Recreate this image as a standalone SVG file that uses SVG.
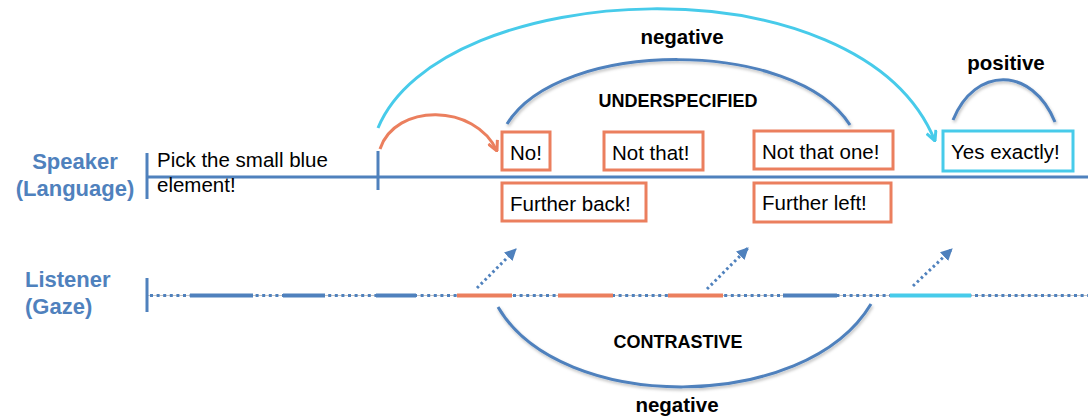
<svg xmlns="http://www.w3.org/2000/svg" width="1088" height="418" viewBox="0 0 1088 418">
  <style>
    .lbl { font-family: "Liberation Sans", Arial, sans-serif; font-weight: bold; fill: #4F81BD; font-size: 22px; }
    .txt { font-family: "Liberation Sans", Arial, sans-serif; fill: #000; font-size: 20.5px; }
    .bold { font-family: "Liberation Sans", Arial, sans-serif; font-weight: bold; fill: #000; }
    .axis { stroke: #4F81BD; stroke-width: 3; fill: none; }
    .box { fill: #fff; stroke: #EB7F5E; stroke-width: 3; }
    .box-pos { fill: #fff; stroke: #47CBEA; stroke-width: 3; }
    .arc-blue { stroke: #4F81BD; stroke-width: 3; fill: none; filter: url(#shadow); }
    .seg { stroke-width: 4; }
    .gaze-arrow { stroke: #4F81BD; stroke-width: 3; stroke-dasharray: 2.5 3; fill: none; marker-end: url(#headBlue); }
  </style>
  <defs>
    <filter id="shadow" x="-10%" y="-20%" width="120%" height="150%">
      <feDropShadow dx="1" dy="2" stdDeviation="1.5" flood-color="#000" flood-opacity="0.25"/>
    </filter>
    <marker id="headOrange" viewBox="0 0 12 12" refX="11" refY="6" markerWidth="12" markerHeight="12" markerUnits="userSpaceOnUse" orient="auto">
      <path d="M1,1 L11,6 L1,11" fill="none" stroke="#EB7F5E" stroke-width="3" stroke-linejoin="miter"/>
    </marker>
    <marker id="headCyan" viewBox="0 0 12 12" refX="11" refY="6" markerWidth="12" markerHeight="12" markerUnits="userSpaceOnUse" orient="auto">
      <path d="M1,1 L11,6 L1,11" fill="none" stroke="#47CBEA" stroke-width="3" stroke-linejoin="miter"/>
    </marker>
    <marker id="headBlue" viewBox="0 0 12 12" refX="11" refY="6" markerWidth="12" markerHeight="12" markerUnits="userSpaceOnUse" orient="auto">
      <path d="M0,0 L12,6 L0,12 Z" fill="#4F81BD"/>
    </marker>
  </defs>

  <!-- Row labels -->
  <g id="speaker-label">
    <text class="lbl" x="75" y="169" text-anchor="middle">Speaker</text>
    <text class="lbl" x="75" y="196" text-anchor="middle">(Language)</text>
  </g>
  <g id="listener-label">
    <text class="lbl" x="25" y="287">Listener</text>
    <text class="lbl" x="25" y="314">(Gaze)</text>
  </g>

  <!-- Speaker timeline -->
  <g id="speaker-timeline">
    <line class="axis" x1="146" y1="177" x2="1088" y2="177"/>
    <line class="axis" x1="147" y1="153" x2="147" y2="199"/>
    <line class="axis" x1="378" y1="151" x2="378" y2="190"/>
    <text class="txt" x="157" y="167">Pick the small blue</text>
    <text class="txt" x="157" y="192">element!</text>
  </g>

  <!-- Listener timeline -->
  <g id="listener-timeline">
    <line x1="147" y1="295.5" x2="1088" y2="295.5" stroke="#c4c4c4" stroke-width="1.2"/>
    <line x1="150" y1="295.5" x2="1088" y2="295.5" stroke="#4F81BD" stroke-width="3" stroke-dasharray="3 3.6"/>
    <line class="axis" x1="147" y1="278" x2="147" y2="312"/>
    <line class="seg" x1="190" y1="295.5" x2="253" y2="295.5" stroke="#4F81BD"/>
    <line class="seg" x1="283" y1="295.5" x2="325" y2="295.5" stroke="#4F81BD"/>
    <line class="seg" x1="376" y1="295.5" x2="416" y2="295.5" stroke="#4F81BD"/>
    <line class="seg" x1="457" y1="295.5" x2="512" y2="295.5" stroke="#EB7F5E"/>
    <line class="seg" x1="558" y1="295.5" x2="613" y2="295.5" stroke="#EB7F5E"/>
    <line class="seg" x1="668" y1="295.5" x2="723" y2="295.5" stroke="#EB7F5E"/>
    <line class="seg" x1="783" y1="295.5" x2="837" y2="295.5" stroke="#4F81BD"/>
    <line class="seg" x1="890" y1="295.5" x2="971" y2="295.5" stroke="#47CBEA"/>
  </g>

  <!-- Speaker utterances -->
  <g id="no">
    <rect class="box" x="502" y="132" width="48" height="38"/>
    <text class="txt" x="510" y="160">No!</text>
  </g>
  <g id="not-that">
    <rect class="box" x="604" y="132" width="99" height="38"/>
    <text class="txt" x="612" y="160">Not that!</text>
  </g>
  <g id="not-that-one">
    <rect class="box" x="754" y="131" width="139" height="38"/>
    <text class="txt" x="762" y="159">Not that one!</text>
  </g>
  <g id="yes-exactly">
    <rect class="box-pos" x="943" y="131" width="130" height="40"/>
    <text class="txt" x="951" y="159">Yes exactly!</text>
  </g>
  <g id="further-back">
    <rect class="box" x="502" y="183" width="144" height="38"/>
    <text class="txt" x="510" y="211">Further back!</text>
  </g>
  <g id="further-left">
    <rect class="box" x="754" y="183" width="137" height="39"/>
    <text class="txt" x="762" y="210">Further left!</text>
  </g>

  <!-- Arc labels -->
  <g id="labels">
    <text class="bold" x="682" y="44" font-size="20.5" text-anchor="middle">negative</text>
    <text class="bold" x="678" y="107" font-size="18" text-anchor="middle">UNDERSPECIFIED</text>
    <text class="bold" x="1006" y="70" font-size="20.5" text-anchor="middle">positive</text>
    <text class="bold" x="678" y="348" font-size="18" text-anchor="middle">CONTRASTIVE</text>
    <text class="bold" x="677" y="412" font-size="20.5" text-anchor="middle">negative</text>
  </g>

  <!-- Connectors -->
  <g id="connectors">
    <path d="M378,128 C440,-22 860,-44 935,141" stroke="#47CBEA" stroke-width="3" fill="none" marker-end="url(#headCyan)"/>
    <path d="M380,149 C395,103 475,103 497,151" stroke="#EB7F5E" stroke-width="3" fill="none" marker-end="url(#headOrange)"/>
    <path class="arc-blue" d="M507,124 C560,38 795,38 850,125"/>
    <path class="arc-blue" d="M953,120 C975,66 1032,66 1055,122"/>
    <path class="arc-blue" d="M498,307 C560,414 805,414 871,304"/>
    <path class="gaze-arrow" d="M477,288 L516,249"/>
    <path class="gaze-arrow" d="M707,289 L748,248"/>
    <path class="gaze-arrow" d="M913,286 L952,249"/>
  </g>
</svg>
